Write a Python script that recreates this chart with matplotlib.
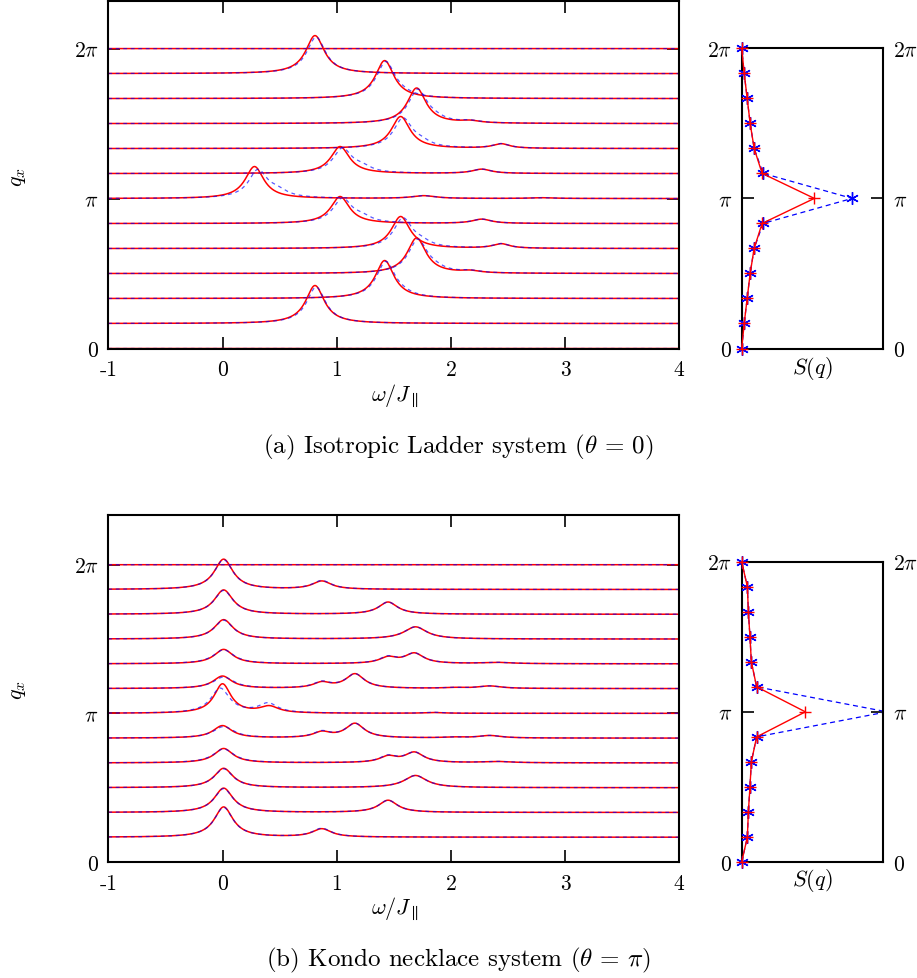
import numpy as np
import matplotlib
matplotlib.use("Agg")
import matplotlib.pyplot as plt

plt.rcParams['font.family'] = 'serif'
plt.rcParams['font.serif'] = ['cmr10']
plt.rcParams['mathtext.fontset'] = 'cm'
plt.rcParams['axes.unicode_minus'] = False
plt.rcParams['axes.formatter.use_mathtext'] = True

# ---------------- data ----------------
q_index = list(range(13))                  # q = k*pi/6, k = 0..12
omega_ticks = [-1, 0, 1, 2, 3, 4]
omega_ticklabels = ['-1', '0', '1', '2', '3', '4']
q_ticklabels = [r'$0$', r'$\pi$', r'$2\pi$']

# peaks per curve: (centre omega, height in units of the q spacing, half width)
ladder_red_peaks = [
    [],
    [(0.81, 1.52, 0.10)],
    [(1.42, 1.52, 0.10)],
    [(1.70, 1.42, 0.10), (2.17, 0.08, 0.10)],
    [(1.56, 1.28, 0.10), (2.44, 0.18, 0.09)],
    [(1.03, 1.08, 0.10), (2.27, 0.17, 0.10)],
    [(0.28, 1.28, 0.10), (1.76, 0.11, 0.12), (2.80, 0.03, 0.12)],
    [(1.03, 1.08, 0.10), (2.27, 0.17, 0.10)],
    [(1.56, 1.28, 0.10), (2.44, 0.18, 0.09)],
    [(1.70, 1.42, 0.10), (2.17, 0.08, 0.10)],
    [(1.42, 1.52, 0.10)],
    [(0.81, 1.52, 0.10)],
    [],
]
ladder_blue_peaks = [
    [],
    [(0.82, 1.46, 0.10)],
    [(1.43, 1.46, 0.10), (1.58, 0.08, 0.10)],
    [(1.71, 1.34, 0.10), (1.86, 0.12, 0.10), (2.17, 0.08, 0.10)],
    [(1.58, 1.18, 0.10), (1.74, 0.18, 0.10), (2.44, 0.18, 0.09)],
    [(1.05, 0.98, 0.10), (1.22, 0.20, 0.10), (2.27, 0.17, 0.10)],
    [(0.31, 1.10, 0.10), (0.48, 0.24, 0.11), (1.76, 0.11, 0.12), (2.80, 0.03, 0.12)],
    [(1.05, 0.98, 0.10), (1.22, 0.20, 0.10), (2.27, 0.17, 0.10)],
    [(1.58, 1.18, 0.10), (1.74, 0.18, 0.10), (2.44, 0.18, 0.09)],
    [(1.71, 1.34, 0.10), (1.86, 0.12, 0.10), (2.17, 0.08, 0.10)],
    [(1.43, 1.46, 0.10), (1.58, 0.08, 0.10)],
    [(0.82, 1.46, 0.10)],
    [],
]
kondo_red_peaks = [
    [],
    [(0.01, 1.22, 0.10), (0.87, 0.33, 0.10)],
    [(0.01, 0.98, 0.10), (1.45, 0.49, 0.10)],
    [(0.01, 0.78, 0.10), (1.69, 0.49, 0.12)],
    [(0.01, 0.58, 0.10), (1.45, 0.24, 0.09), (1.68, 0.41, 0.10), (2.40, 0.05, 0.15)],
    [(0.00, 0.50, 0.10), (0.87, 0.22, 0.09), (1.16, 0.58, 0.10), (2.02, 0.03, 0.10), (2.34, 0.10, 0.12)],
    [(0.00, 1.18, 0.09), (0.41, 0.26, 0.10), (1.85, 0.03, 0.10)],
    [(0.00, 0.50, 0.10), (0.87, 0.22, 0.09), (1.16, 0.58, 0.10), (2.02, 0.03, 0.10), (2.34, 0.10, 0.12)],
    [(0.01, 0.58, 0.10), (1.45, 0.24, 0.09), (1.68, 0.41, 0.10), (2.40, 0.05, 0.15)],
    [(0.01, 0.78, 0.10), (1.69, 0.49, 0.12)],
    [(0.01, 0.98, 0.10), (1.45, 0.49, 0.10)],
    [(0.01, 1.22, 0.10), (0.87, 0.33, 0.10)],
    [],
]
kondo_blue_peaks = [
    [],
    [(0.01, 1.20, 0.10), (0.87, 0.35, 0.10)],
    [(0.01, 0.96, 0.10), (1.45, 0.49, 0.10)],
    [(0.01, 0.76, 0.10), (1.69, 0.49, 0.12)],
    [(0.01, 0.56, 0.11), (1.45, 0.26, 0.09), (1.68, 0.41, 0.10), (2.40, 0.05, 0.15)],
    [(0.01, 0.46, 0.11), (0.87, 0.24, 0.09), (1.16, 0.58, 0.10), (2.02, 0.03, 0.10), (2.34, 0.10, 0.12)],
    [(-0.02, 1.00, 0.10), (0.40, 0.38, 0.10), (1.85, 0.04, 0.10)],
    [(0.01, 0.46, 0.11), (0.87, 0.24, 0.09), (1.16, 0.58, 0.10), (2.02, 0.03, 0.10), (2.34, 0.10, 0.12)],
    [(0.01, 0.56, 0.11), (1.45, 0.26, 0.09), (1.68, 0.41, 0.10), (2.40, 0.05, 0.15)],
    [(0.01, 0.76, 0.10), (1.69, 0.49, 0.12)],
    [(0.01, 0.96, 0.10), (1.45, 0.49, 0.10)],
    [(0.01, 1.20, 0.10), (0.87, 0.35, 0.10)],
    [],
]

# static structure factor S(q) for k = 0..12
ladder_S_red = [0, 0.025, 0.055, 0.085, 0.125, 0.205, 0.73, 0.205, 0.125, 0.085, 0.055, 0.025, 0]
ladder_S_blue = [0, 0.025, 0.055, 0.085, 0.125, 0.215, 1.11, 0.215, 0.125, 0.085, 0.055, 0.025, 0]
kondo_S_red = [0, 0.057, 0.067, 0.083, 0.097, 0.15, 0.64, 0.15, 0.097, 0.083, 0.067, 0.057, 0]
kondo_S_blue = [0, 0.057, 0.067, 0.083, 0.097, 0.15, 1.46, 0.15, 0.097, 0.083, 0.067, 0.057, 0]
S_xmax = 1.42

captions = [r'(a) Isotropic Ladder system ($\theta\,=\,0$)',
            r'(b) Kondo necklace system ($\theta\,=\,\pi$)']

# ---------------- drawing ----------------
W, H = 917, 979
fig = plt.figure(figsize=(W / 100, H / 100), dpi=100)


def rect(x0, x1, ytop, ybot):
    return [x0 / W, 1 - ybot / H, (x1 - x0) / W, (ybot - ytop) / H]


omega = np.linspace(-1, 4, 1500)
step = np.pi / 6
FS_TICK = 15.5
FS_LAB = 16
FS_CAP = 18


def spectrum(peaks):
    s = np.zeros_like(omega)
    for c, h, g in peaks:
        s += h * g * g / ((omega - c) ** 2 + g * g)
    return s


def style_axes(ax):
    for sp in ax.spines.values():
        sp.set_linewidth(1.5)
        sp.set_zorder(5)
    ax.tick_params(direction='in', length=8.5, width=1.2, labelsize=FS_TICK,
                   top=True, right=True, pad=7)


def main_panel(rc, red_peaks, blue_peaks, ymax):
    ax = fig.add_axes(rc)
    for k in q_index:
        base = k * step
        ax.plot(omega, base + step * spectrum(red_peaks[k]), color='#ff0000', lw=1.1, zorder=2)
        ax.plot(omega, base + step * spectrum(blue_peaks[k]), color='#0000ff', lw=0.9,
                dashes=(3, 3), alpha=0.65, zorder=3)
    ax.set_xlim(-1, 4)
    ax.set_ylim(0, ymax)
    ax.set_xticks(omega_ticks)
    ax.set_xticklabels(omega_ticklabels)
    ax.set_yticks([0, np.pi, 2 * np.pi])
    ax.set_yticklabels(q_ticklabels)
    style_axes(ax)
    ax.tick_params(axis='x', pad=8)
    return ax


def side_panel(rc, s_red, s_blue):
    ax = fig.add_axes(rc)
    q = np.array(q_index) * step
    sr = np.array(s_red)
    sb = np.array(s_blue)
    ax.plot(sb, q, color='#0000ff', lw=0.9, dashes=(4, 3), zorder=2)
    m = sb <= S_xmax
    ax.plot(sb[m], q[m], ls='none', marker=(6, 2, 0), ms=9, mew=1.0, color='#0000ff',
            clip_on=False, zorder=6)
    ax.plot(sr, q, color='#ff0000', lw=1.0, marker='+', ms=9, mew=1.0, clip_on=False, zorder=7)
    ax.set_xlim(0, S_xmax)
    ax.set_ylim(0, 2 * np.pi)
    ax.set_xticks([])
    ax.set_yticks([0, np.pi, 2 * np.pi])
    ax.set_yticklabels(q_ticklabels)
    style_axes(ax)
    ax.tick_params(axis='y', labelright=True)
    return ax


main_panel(rect(108.3, 679.3, 2, 349.5), ladder_red_peaks, ladder_blue_peaks, 7.28)
side_panel(rect(741.7, 883, 49.3, 349.5), ladder_S_red, ladder_S_blue)
main_panel(rect(108.3, 679.3, 515.7, 863), kondo_red_peaks, kondo_blue_peaks, 7.34)
side_panel(rect(741.7, 883, 562.7, 863), kondo_S_red, kondo_S_blue)

for yoff, cap in zip([0, 513], captions):
    fig.text(395 / W, 1 - (396 + yoff) / H, r'$\omega/J_{\parallel}$', fontsize=FS_LAB,
             ha='center', va='center')
    fig.text(18 / W, 1 - (177 + yoff) / H, r'$q_x$', fontsize=FS_LAB, rotation=90,
             ha='center', va='center')
    fig.text(812 / W, 1 - (368 + yoff) / H, r'$S(q)$', fontsize=FS_LAB, ha='center', va='center')
    fig.text(458 / W, 1 - (447 + yoff) / H, cap, fontsize=FS_CAP, ha='center', va='center')

fig.savefig('out.png', dpi=100)
